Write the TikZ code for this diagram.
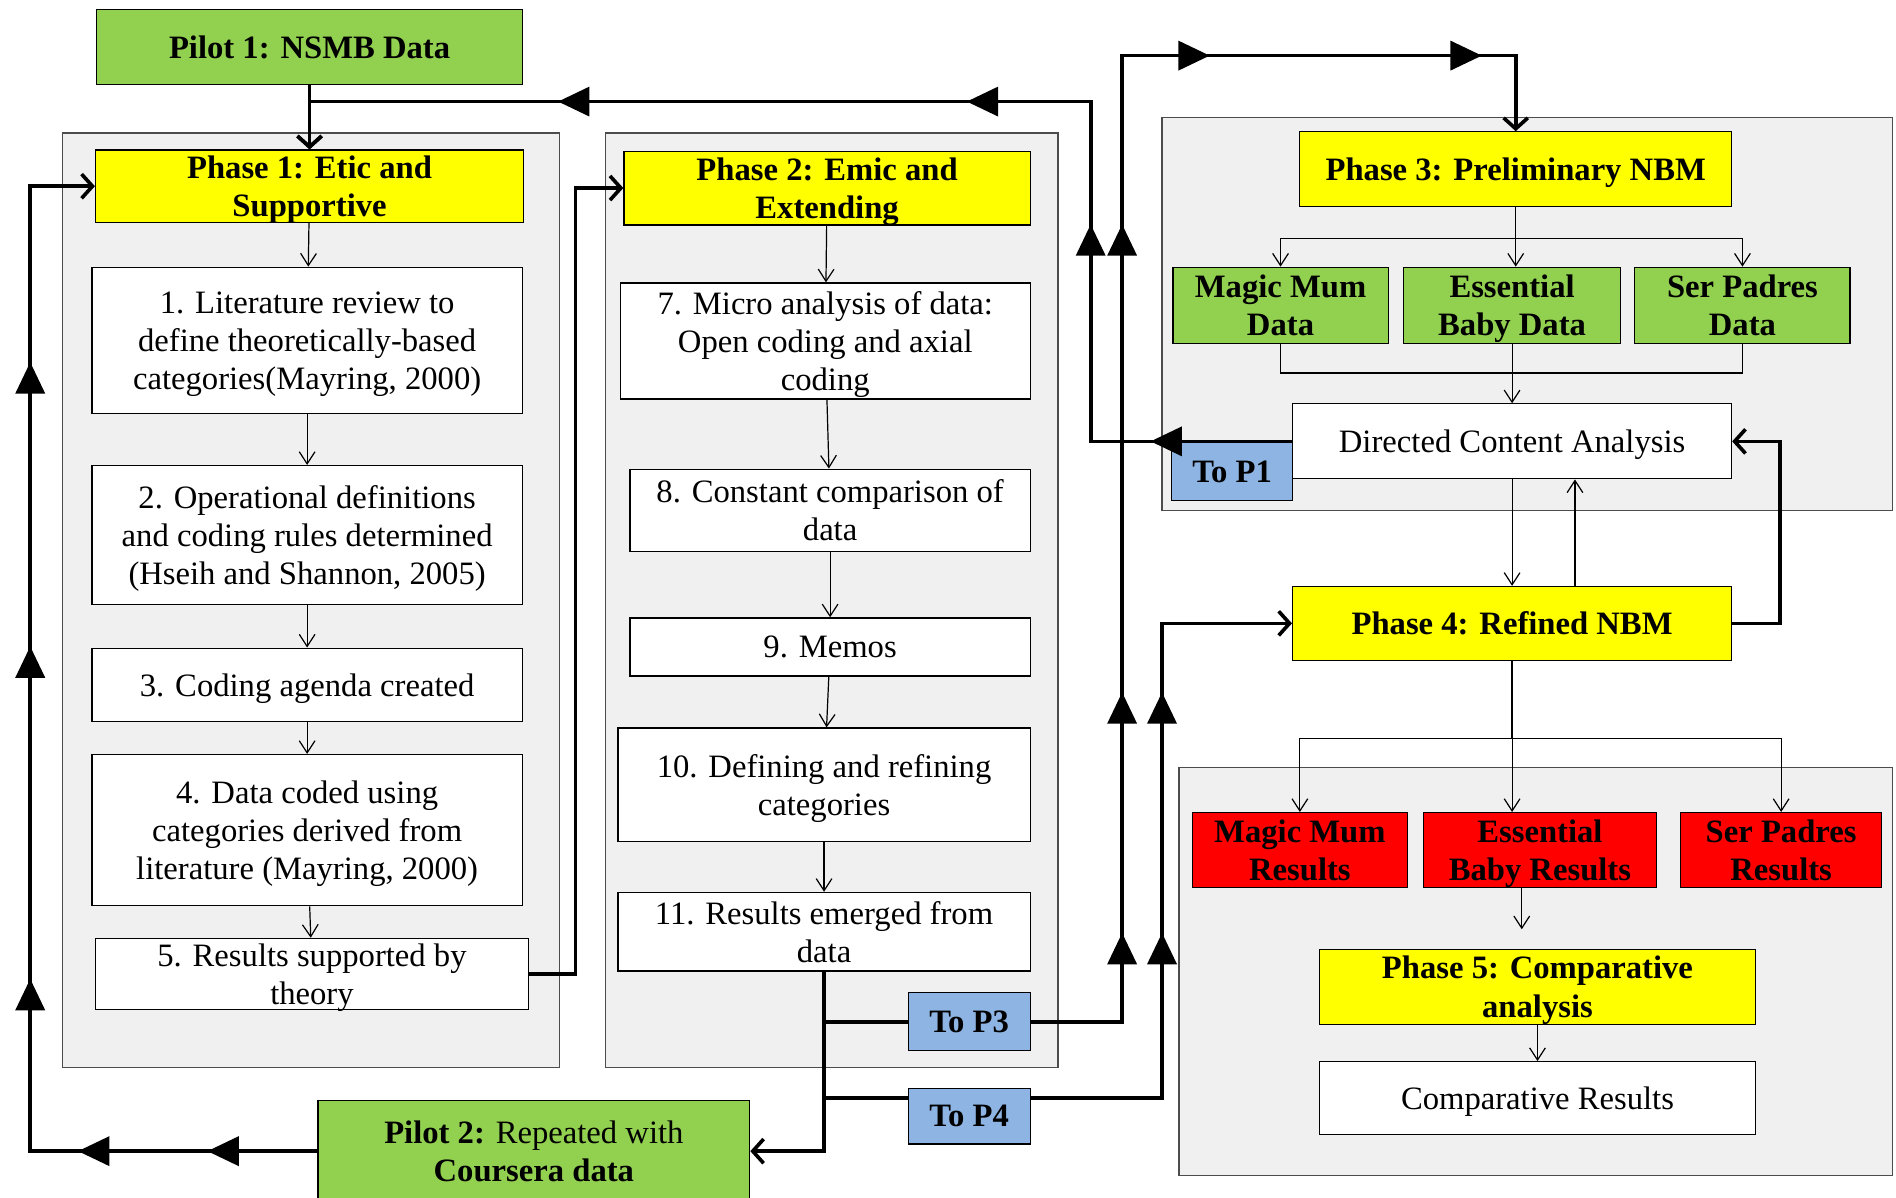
\documentclass[tikz,border=0pt]{standalone}
\usepackage{fontspec}
\setmainfont{Liberation Serif}
\usetikzlibrary{arrows.meta,decorations.markings,calc}

\definecolor{panelgray}{RGB}{240,240,240}
\definecolor{phaseyellow}{RGB}{255,255,0}
\definecolor{datagreen}{RGB}{146,208,80}
\definecolor{resred}{RGB}{255,0,0}
\definecolor{toblue}{RGB}{141,180,226}
\newcommand{\boxfont}{\fontsize{27}{31.5}\selectfont}

\tikzset{
  panel/.style={draw=black!70, fill=panelgray, line width=1pt},
  txtbox/.style={draw, fill=white, line width=1pt, align=center, inner sep=1pt, text depth=0pt, font=\boxfont},
  hdrbox/.style={txtbox, fill=phaseyellow, font=\boxfont\bfseries},
  databox/.style={txtbox, fill=datagreen, font=\boxfont\bfseries},
  resbox/.style={txtbox, fill=resred, font=\boxfont\bfseries},
  tobox/.style={txtbox, fill=toblue, font=\boxfont\bfseries},
  thinline/.style={line width=1pt},
  thinarr/.style={line width=1pt, -{Straight Barb[length=10pt,width=13pt]}},
  thickline/.style={line width=3pt},
  thickarr/.style={line width=3pt, -{Straight Barb[length=9pt,width=20pt]}},
  tri/.style={postaction={decorate, decoration={markings,
      mark=at position #1 with {\arrow{Triangle[length=26pt,width=24pt]}}}}},
}

\begin{document}
\begin{tikzpicture}[x=1pt,y=1pt,yscale=-1,xscale=1]
\useasboundingbox (0,0) rectangle (1568,990);

%Shape: Rectangle (phase panels)
\draw[panel] (52,110) rectangle (463,883);
\draw[panel] (501,110) rectangle (875,883);
\draw[panel] (961,97) rectangle (1565,422);
\draw[panel] (975,635) rectangle (1565,972);

% Text Node (phase 1)
\node[databox, minimum width=352pt, minimum height=62pt] (pilot1) at (256,39) {Pilot 1: NSMB Data};
\node[hdrbox, minimum width=354pt, minimum height=60pt] (hdr1) at (256,154) {Phase 1: Etic and\\Supportive};
\node[txtbox, minimum width=356pt, minimum height=121pt] (lit) at (254,281.5) {1. Literature review to\\define theoretically-based\\categories(Mayring, 2000)};
\node[txtbox, minimum width=356pt, minimum height=115pt] (oper) at (254,442.5) {2. Operational definitions\\and coding rules determined\\(Hseih and Shannon, 2005)};
\node[txtbox, minimum width=356pt, minimum height=61pt] (agenda) at (254,566.5) {3. Coding agenda created};
\node[txtbox, minimum width=356pt, minimum height=125pt] (coded) at (254,686.5) {4. Data coded using\\categories derived from\\literature (Mayring, 2000)};
\node[txtbox, minimum width=358pt, minimum height=59pt] (supp) at (258,805.5) {5. Results supported by\\theory};

% Text Node (phase 2)
\node[hdrbox, minimum width=336pt, minimum height=61pt] (hdr2) at (684,155.5) {Phase 2: Emic and\\Extending};
\node[txtbox, minimum width=339pt, minimum height=96pt] (micro) at (682.5,282) {7. Micro analysis of data:\\Open coding and axial\\coding};
\node[txtbox, minimum width=331pt, minimum height=68pt] (const) at (686.5,422) {8. Constant comparison of\\data};
\node[txtbox, minimum width=331pt, minimum height=48pt] (memos) at (686.5,535) {9. Memos};
\node[txtbox, minimum width=341pt, minimum height=94pt] (refine) at (681.5,649) {10. Defining and refining\\categories};
\node[txtbox, minimum width=341pt, minimum height=65pt] (emerg) at (681.5,770.5) {11. Results emerged from\\data};
\node[tobox, minimum width=101pt, minimum height=48pt] (top3) at (801.5,845) {To P3};
\node[tobox, minimum width=101pt, minimum height=46pt] (top4) at (801.5,923) {To P4};
\node[databox, minimum width=357pt, minimum height=84pt] (pilot2) at (441.5,952) {Pilot 2: {\mdseries Repeated with}\\Coursera data};

% Text Node (phase 3 and 4)
\node[hdrbox, minimum width=357pt, minimum height=62pt] (hdr3) at (1253.5,140) {Phase 3: Preliminary NBM};
\node[databox, minimum width=178pt, minimum height=63pt] (mmdata) at (1059,252.5) {Magic Mum\\Data};
\node[databox, minimum width=179pt, minimum height=63pt] (ebdata) at (1250.5,252.5) {Essential\\Baby Data};
\node[databox, minimum width=178pt, minimum height=63pt] (spdata) at (1441,252.5) {Ser Padres\\Data};
\node[txtbox, minimum width=363pt, minimum height=62pt] (dca) at (1250.5,365) {Directed Content Analysis};
\node[tobox, minimum width=100pt, minimum height=48pt] (top1) at (1019,390) {To P1};
\node[hdrbox, minimum width=363pt, minimum height=61pt] (hdr4) at (1250.5,515.5) {Phase 4: Refined NBM};

% Text Node (phase 5)
\node[resbox, minimum width=178pt, minimum height=62pt] (mmres) at (1075,703) {Magic Mum\\Results};
\node[resbox, minimum width=193pt, minimum height=62pt] (ebres) at (1273.5,703) {Essential\\Baby Results};
\node[resbox, minimum width=166pt, minimum height=62pt] (spres) at (1473,703) {Ser Padres\\Results};
\node[hdrbox, minimum width=361pt, minimum height=62pt] (hdr5) at (1271.5,816) {Phase 5: Comparative\\analysis};
\node[txtbox, minimum width=361pt, minimum height=60pt] (comp) at (1271.5,908) {Comparative Results};

%Straight Lines (thin steps)
\draw[thinarr] (hdr1) -- (lit);
\draw[thinarr] (lit) -- (oper);
\draw[thinarr] (oper) -- (agenda);
\draw[thinarr] (agenda) -- (coded);
\draw[thinarr] (coded) -- (supp);
\draw[thinarr] (hdr2) -- (micro);
\draw[thinarr] (micro) -- (const);
\draw[thinarr] (const) -- (memos);
\draw[thinarr] (memos) -- (refine);
\draw[thinarr] (refine) -- (emerg);

\draw[thinline] (hdr3.south) -- ++(0,26) coordinate (s3);
\draw[thinarr] (s3) -| (mmdata.north);
\draw[thinarr] (s3) -- (s3 |- ebdata.north);
\draw[thinarr] (s3) -| (spdata.north);
\draw[thinline] (mmdata.south) -- ++(0,24) -| (spdata.south);
\draw[thinarr] (ebdata) -- (dca);
\draw[thinarr] (dca.south) -- (hdr4.north);
\draw[thinarr] ([xshift=52pt]hdr4.north) -- ([xshift=52pt]dca.south);

\draw[line width=2pt] (hdr4.south) -- ++(0,64) coordinate (s4);
\draw[thinarr] (s4) -| (mmres.north);
\draw[thinarr] (s4) -- (s4 |- ebres.north);
\draw[thinarr] (s4) -| (spres.north);
\draw[thinarr] ([xshift=-15pt]ebres.south) -- ++(0,34);
\draw[thinarr] (hdr5) -- (comp);

%Straight Lines (thick links)
\draw[thickarr] (pilot1) -- (hdr1);
\draw[thickarr, tri=117pt, tri=346pt, tri=550pt, tri=888pt] (dca.west) -- (902,365) |- (256,84) -- (hdr1.north);
\draw[thickarr] (supp.east) -- (476,805.5) |- (hdr2.west);
\draw[thickarr, tri=91pt, tri=198pt, tri=380pt, tri=655pt, tri=890pt] (pilot2.west) -- (25,952) |- (hdr1.west);

\coordinate (t3) at (emerg.south |- top3.west);
\coordinate (t4) at (681.5,908);
\draw[thickarr] (emerg.south) |- (pilot2.east);
\draw[thickline] (t3) -- (top3.west);
\draw[thickline] (t4) -- (top4.west |- t4);
\draw[thickarr, tri=149pt, tri=348pt, tri=735pt, tri=947pt, tri=1172pt] (top3.east) -- (928,845) |- (1253.5,46) -- (hdr3.north);
\draw[thickarr, tri=245pt, tri=444pt] (top4.east |- t4) -- (961,908) |- (hdr4.west);
\draw[thickarr] (hdr4.east) -- (1472,515.5) |- (dca.east);

\end{tikzpicture}
\end{document}
